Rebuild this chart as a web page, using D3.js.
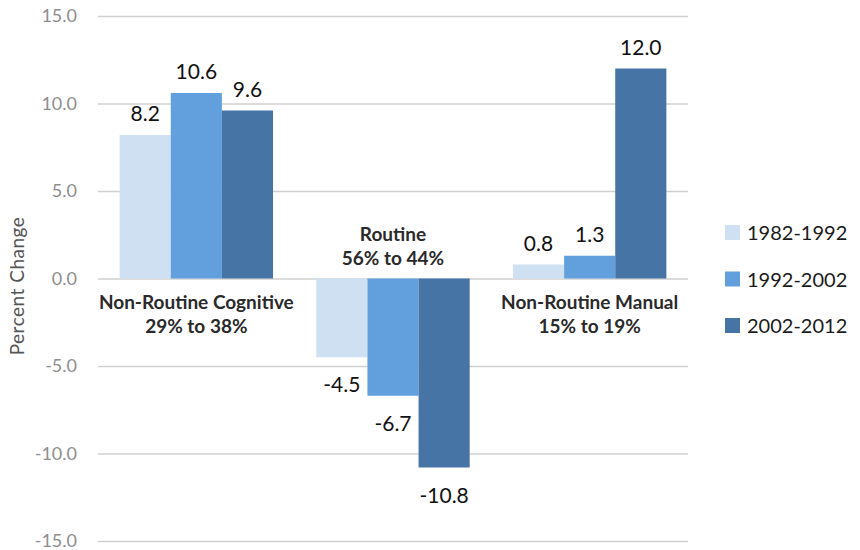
<!DOCTYPE html>
<html>
<head>
<meta charset="utf-8">
<script src="https://cdn.jsdelivr.net/npm/d3@7"></script>
<style>
  body { margin: 0; background: #fff; }
  svg { font-family: Lato, "Open Sans", sans-serif; }
</style>
</head>
<body>
<svg id="chart" width="860" height="550"></svg>
<script>
// data
const categories = ['Non-Routine Cognitive', 'Routine', 'Non-Routine Manual'];
const categorySub = ['29% to 38%', '56% to 44%', '15% to 19%'];
const periods = ['1982-1992', '1992-2002', '2002-2012'];
const values = [
  [8.2, 10.6, 9.6],
  [-4.5, -6.7, -10.8],
  [0.8, 1.3, 12.0]
];
const yTicks = [-15, -10, -5, 0, 5, 10, 15];
const colors = ['#cfe0f2', '#62a0dd', '#4674a4'];

const svg = d3.select('#chart');
const plotLeft = 98, plotRight = 688, plotTop = 16, plotBottom = 541;

// plain hyphen for negatives, like the original
const fmt = v => v.toFixed(1);

const x = d3.scaleBand()
  .domain(categories)
  .range([plotLeft, plotRight])
  .paddingInner(0.22)
  .paddingOuter(0.11);

const xInner = d3.scaleBand()
  .domain(periods)
  .range([0, x.bandwidth()]);

const y = d3.scaleLinear()
  .domain([-15, 15])
  .range([plotBottom, plotTop]);

// gridlines + tick labels
const yAxis = svg.append('g')
  .attr('transform', 'translate(' + plotLeft + ',0)')
  .call(d3.axisLeft(y)
    .tickValues(yTicks)
    .tickSize(-(plotRight - plotLeft))
    .tickPadding(21)
    .tickFormat(fmt));
yAxis.select('.domain').remove();
yAxis.selectAll('line').attr('stroke', '#d0d0d0').attr('stroke-width', 1.5);
yAxis.selectAll('text')
  .attr('fill', '#8e8e8e')
  .style('font-size', '18px')
  .attr('font-family', 'Lato, sans-serif');

// y title
svg.append('text')
  .attr('transform', 'translate(24,286) rotate(-90)')
  .attr('text-anchor', 'middle')
  .attr('fill', '#555')
  .style('font-size', '19px')
  .style('letter-spacing', '0.5px')
  .text('Percent Change');

// bars
const groups = svg.append('g')
  .selectAll('g')
  .data(categories)
  .join('g')
  .attr('transform', d => 'translate(' + x(d) + ',0)');

groups.selectAll('rect')
  .data((d, i) => values[i].map((v, j) => ({ period: periods[j], value: v, j: j })))
  .join('rect')
  .attr('x', d => xInner(d.period))
  .attr('width', xInner.bandwidth())
  .attr('y', d => y(Math.max(0, d.value)))
  .attr('height', d => Math.abs(y(d.value) - y(0)))
  .attr('fill', d => colors[d.j]);

// value labels
groups.selectAll('text.val')
  .data((d, i) => values[i].map((v, j) => ({ period: periods[j], value: v })))
  .join('text')
  .attr('class', 'val')
  .attr('x', d => xInner(d.period) + xInner.bandwidth() / 2)
  .attr('y', d => d.value >= 0 ? y(d.value) - 14 : y(d.value) + 35)
  .attr('text-anchor', 'middle')
  .attr('fill', '#111')
  .style('font-size', '21px')
  .text(d => fmt(d.value));

// category labels
const catLabels = svg.append('g')
  .selectAll('text')
  .data(categories)
  .join('text')
  .attr('text-anchor', 'middle')
  .attr('fill', '#2a2a2a')
  .style('font-size', '19px')
  .style('font-weight', 'bold')
  .attr('transform', (d, i) => {
    const neg = d3.min(values[i]) < 0;
    const yy = neg ? y(0) - 38 : y(0) + 30;
    return 'translate(' + (x(d) + x.bandwidth() / 2) + ',' + yy + ')';
  });
catLabels.append('tspan').attr('x', 0).attr('y', 0).text(d => d);
catLabels.append('tspan').attr('x', 0).attr('y', 24).text((d, i) => categorySub[i]);

// legend
const legend = svg.append('g')
  .selectAll('g')
  .data(periods)
  .join('g')
  .attr('transform', (d, i) => 'translate(725,' + (225 + i * 46.5) + ')');
legend.append('rect')
  .attr('width', 15)
  .attr('height', 15)
  .attr('fill', (d, i) => colors[i]);
legend.append('text')
  .attr('x', 22)
  .attr('y', 15)
  .attr('fill', '#1a1a1a')
  .style('font-size', '20px')
  .text(d => d);
</script>
</body>
</html>
